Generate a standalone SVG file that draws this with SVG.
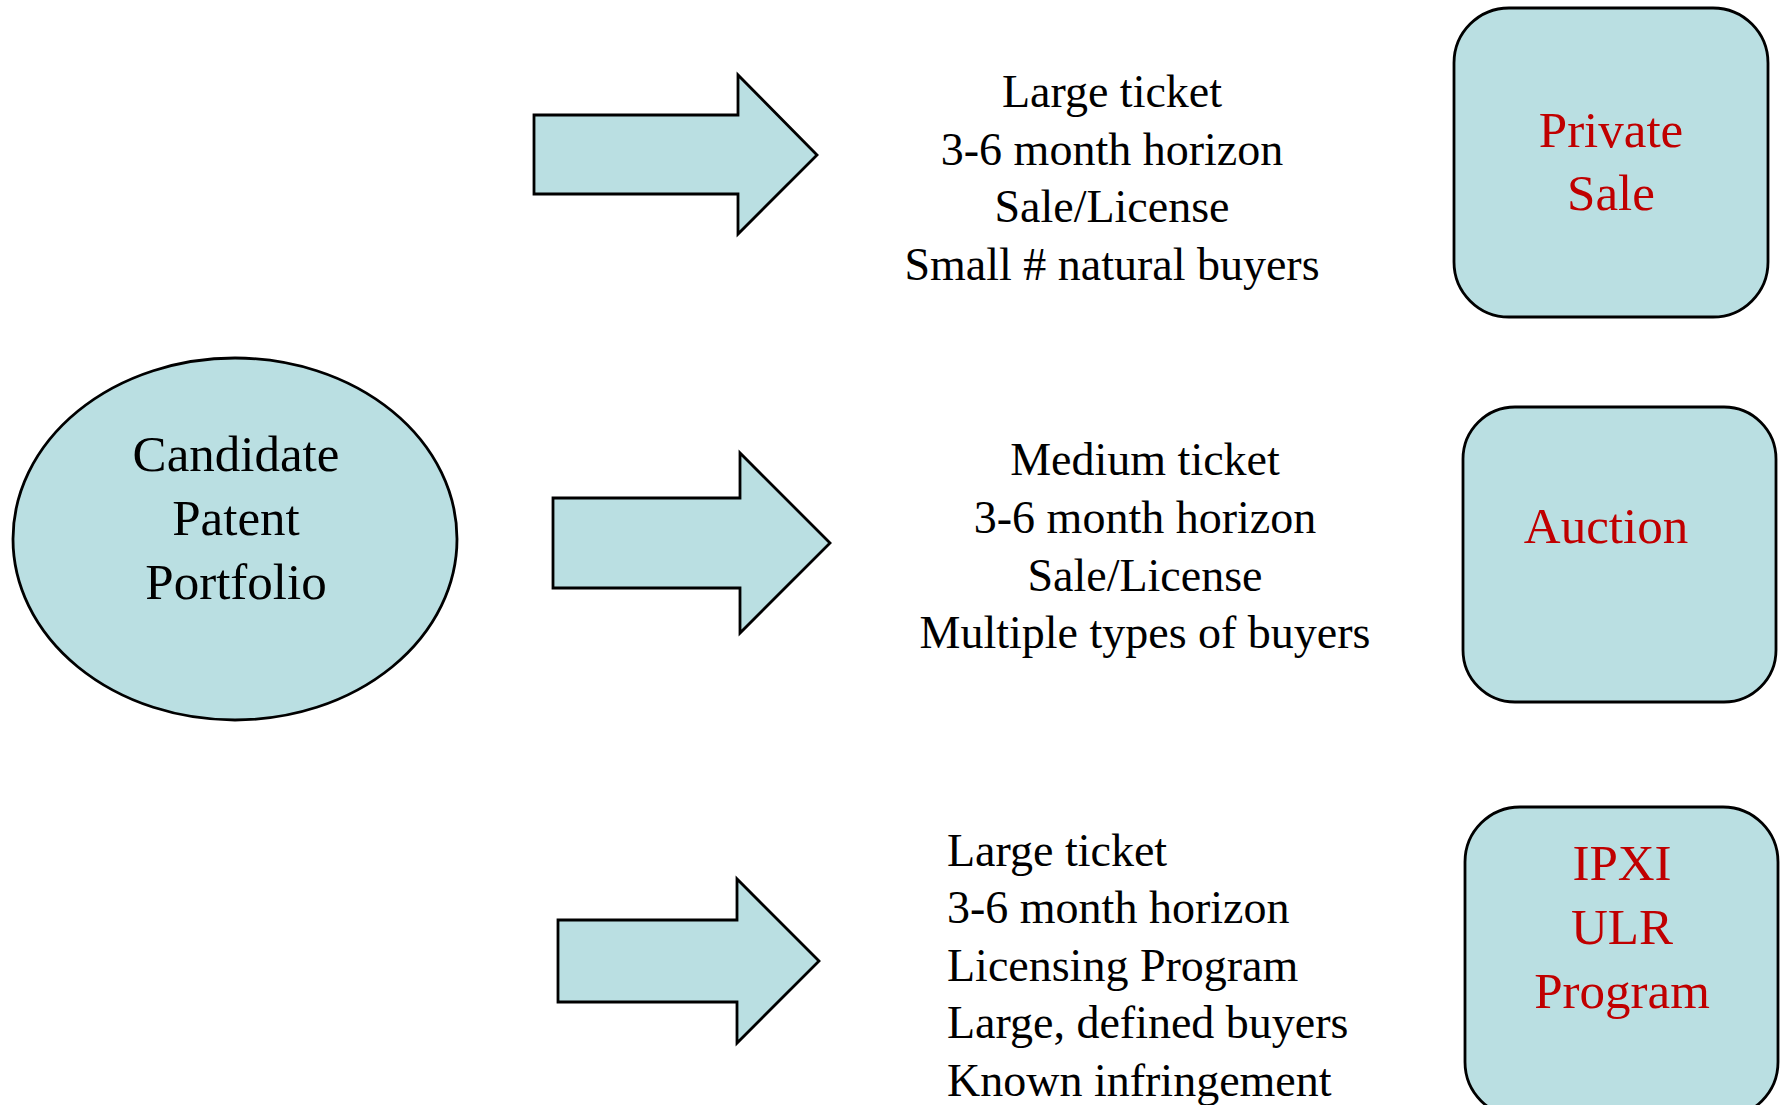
<svg xmlns="http://www.w3.org/2000/svg" width="1780" height="1105" viewBox="0 0 1780 1105">
<style>
.shape{fill:#BADFE2;stroke:#000;stroke-width:2.8;stroke-linejoin:miter}
.t{font-family:"Liberation Serif","Times New Roman",serif;font-size:46px;fill:#000}
.big{font-family:"Liberation Serif","Times New Roman",serif;font-size:51px;text-anchor:middle}
.red{fill:#C00000}
.blk{fill:#000}
.c{text-anchor:middle}
</style>
<rect width="1780" height="1105" fill="#fff"/>
<g id="source">
<ellipse class="shape" cx="235" cy="539" rx="222" ry="181" stroke-width="2.2"/>
<text class="big blk" x="236" y="471">Candidate</text>
<text class="big blk" x="236" y="535">Patent</text>
<text class="big blk" x="236" y="599">Portfolio</text>
</g>
<g id="connectors">
<polygon class="shape" points="534,115 738,115 738,75 817,155 738,234 738,194 534,194"/>
<polygon class="shape" points="553,498 740,498 740,453 830,543 740,633 740,588 553,588"/>
<polygon class="shape" points="558,920 737,920 737,879 819,961 737,1043 737,1002 558,1002"/>
</g>
<g id="desc-private">
<text class="t c" x="1112" y="107">Large ticket</text>
<text class="t c" x="1112" y="164.5">3-6 month horizon</text>
<text class="t c" x="1112" y="222">Sale/License</text>
<text class="t c" x="1112" y="279.5">Small # natural buyers</text>
</g>
<g id="desc-auction">
<text class="t c" x="1145" y="475">Medium ticket</text>
<text class="t c" x="1145" y="533">3-6 month horizon</text>
<text class="t c" x="1145" y="591">Sale/License</text>
<text class="t c" x="1145" y="648">Multiple types of buyers</text>
</g>
<g id="desc-ipxi">
<text class="t" x="947" y="866">Large ticket</text>
<text class="t" x="947" y="923">3-6 month horizon</text>
<text class="t" x="947" y="981">Licensing Program</text>
<text class="t" x="947" y="1038">Large, defined buyers</text>
<text class="t" x="947" y="1096">Known infringement</text>
</g>
<g id="private-sale">
<rect class="shape" x="1454" y="8" width="314" height="309" rx="55" ry="55"/>
<text class="big red" x="1611" y="147">Private</text>
<text class="big red" x="1611" y="210">Sale</text>
</g>
<g id="auction">
<rect class="shape" x="1463" y="407" width="313" height="295" rx="52" ry="52"/>
<text class="big red" x="1606" y="543">Auction</text>
</g>
<g id="ipxi">
<rect class="shape" x="1465" y="807" width="313" height="310" rx="55" ry="55"/>
<text class="big red" x="1622" y="880">IPXI</text>
<text class="big red" x="1622" y="944">ULR</text>
<text class="big red" x="1622" y="1008">Program</text>
</g>
</svg>
